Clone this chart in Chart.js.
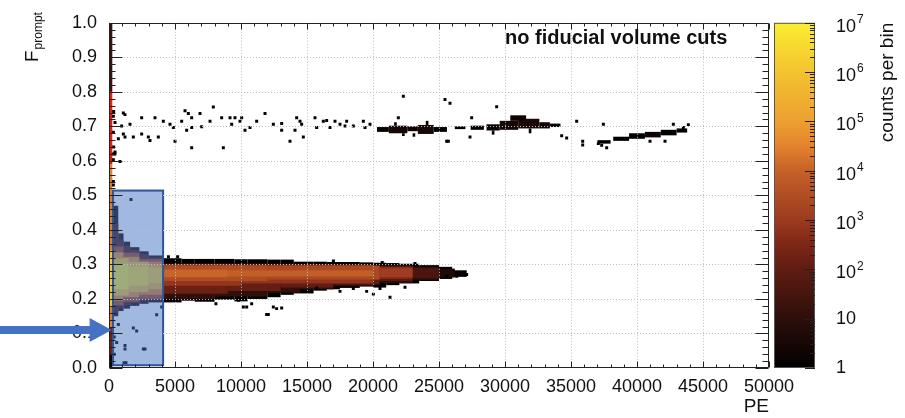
<!DOCTYPE html>
<html><head><meta charset="utf-8">
<script src="https://cdn.jsdelivr.net/npm/chart.js@4.4.1/dist/chart.umd.min.js"></script>
<style>html,body{margin:0;padding:0;background:#fff;}canvas{display:block;}</style>
</head><body>
<canvas id="c" width="905" height="418"></canvas>
<script>
const FONT = '"Liberation Sans", Arial, Helvetica, sans-serif';

// ---- axis ticks ----
const xTickValues = [0,5000,10000,15000,20000,25000,30000,35000,40000,45000,50000];
const xTickLabels = ['0','5000','10000','15000','20000','25000','30000','35000','40000','45000','50000'];
const yTickValues = [0,0.1,0.2,0.3,0.4,0.5,0.6,0.7,0.8,0.9,1.0];
const yTickLabels = ['0.0','0.1','0.2','0.3','0.4','0.5','0.6','0.7','0.8','0.9','1.0'];
const cbTickValues = [1,10,100,1e3,1e4,1e5,1e6,1e7];
const cbTickLabels = [['1',''],['10',''],['10','2'],['10','3'],['10','4'],['10','5'],['10','6'],['10','7']];

// ---- histogram cells: [PE from, PE to, Fprompt from, Fprompt to, counts per bin] (drawn in order) ----
const firstColumn = [
  [0,250,0.000,0.040,2],
  [0,250,0.040,0.120,200],
  [0,250,0.120,0.180,3e4],
  [0,250,0.180,0.340,1.5e6],
  [0,250,0.340,0.590,3e4],
  [0,250,0.800,1.000,15]
];
const redColumn = [[0,250,0.590,0.800]];

const lowPECore = [
  [250,700,0.150,0.470,3],[700,1100,0.165,0.390,4],[1100,1600,0.172,0.366,4],
  [1600,2300,0.180,0.350,4],[2300,3000,0.186,0.338,4],[3000,4100,0.190,0.326,4],
  [250,700,0.160,0.420,40],[700,1100,0.175,0.372,60],[1100,1600,0.182,0.354,60],
  [1600,2300,0.188,0.342,60],[2300,3000,0.193,0.330,60],[3000,4100,0.197,0.320,60],
  [250,1100,0.182,0.352,2000],[1100,2300,0.192,0.334,2000],[2300,4100,0.200,0.316,2000],
  [250,1100,0.195,0.335,6e4],[1100,2300,0.205,0.322,5e4],[2300,4100,0.212,0.308,3e4],
  [250,1500,0.210,0.318,1e6],[1500,3000,0.220,0.308,6e5],[3000,4100,0.228,0.300,3e5],
  [250,1500,0.228,0.300,6e6],[1500,3000,0.238,0.294,3e6],[3000,4100,0.246,0.290,1.5e6]
];

const mainBand = [
  [4100,5500,0.190,0.318,1],[5500,6500,0.195,0.316,1],[6500,8000,0.192,0.316,1],
  [8000,9500,0.198,0.316,1],[9500,10500,0.193,0.315,1],[10500,12000,0.200,0.315,1],
  [12000,13000,0.205,0.314,1],[13000,14000,0.212,0.314,1],[14000,15500,0.216,0.308,1],
  [15500,16500,0.224,0.308,1],[16500,17500,0.228,0.307,1],[17500,19000,0.232,0.307,1],
  [19000,20000,0.236,0.306,1],[20000,21000,0.233,0.305,1],[21000,22000,0.240,0.304,1],
  [22000,23500,0.245,0.302,1],[23500,25000,0.252,0.298,1],[25000,26000,0.258,0.293,1],
  [26000,27100,0.264,0.283,1],
  [4100,8000,0.200,0.303,12],[8000,12000,0.207,0.303,12],[12000,14500,0.218,0.302,12],
  [14500,17000,0.228,0.301,12],[17000,20000,0.237,0.300,12],[20000,23000,0.246,0.298,10],
  [23000,25000,0.255,0.294,8],[25000,26200,0.262,0.288,5],
  [4100,9000,0.215,0.301,150],[9000,13000,0.223,0.300,120],[13000,17000,0.233,0.300,110],
  [17000,20500,0.242,0.298,100],[20500,23000,0.252,0.295,70],[23000,25000,0.260,0.290,40],
  [4100,10000,0.238,0.300,800],[10000,20000,0.245,0.299,700],[20000,23000,0.258,0.293,400],
  [4100,12000,0.252,0.297,2800],[12000,20500,0.256,0.296,2200],[20500,23000,0.263,0.289,1200],
  [4100,9000,0.263,0.285,11000],[9000,20000,0.265,0.283,8000]
];

const denseClusters = [
  [20300,21200,0.684,0.698,1],[21200,22600,0.680,0.702,3],[22600,23400,0.686,0.700,2],
  [23400,24600,0.678,0.704,4],[24600,25600,0.684,0.698,1],
  [21600,21800,0.702,0.712,1],[23000,23200,0.670,0.680,1],[24000,24200,0.704,0.716,1],[22200,22400,0.672,0.680,1],
  [26200,27000,0.692,0.700,1],[27400,28400,0.690,0.702,1],[28600,29600,0.688,0.706,2],
  [29600,31000,0.690,0.716,3],[31000,32600,0.694,0.722,4],[32600,33400,0.694,0.712,2],
  [33400,34200,0.698,0.708,1],[30400,31600,0.716,0.732,2],[29000,29200,0.676,0.688,1],[31800,32000,0.680,0.694,1],
  [37000,38000,0.650,0.660,1],[38200,39400,0.658,0.670,1],[39400,40600,0.664,0.680,1],
  [40600,41800,0.668,0.684,2],[41800,43000,0.674,0.690,1],[43000,43800,0.682,0.694,1]
];

// ---- isolated single-count bins: [PE, Fprompt] ----
const sparseDots = [
  [350,0.743],[330,0.729],[1086,0.739],[1212,0.734],[455,0.711],[1591,0.706],[960,0.701],[330,0.683],
  [1086,0.678],[1212,0.669],[707,0.664],[350,0.640],[455,0.626],[330,0.603],[833,0.598],[2475,0.725],
  [3485,0.725],[4116,0.715],[4621,0.706],[4874,0.697],[5505,0.715],[5758,0.745],[6010,0.737],[6894,0.737],
  [6263,0.725],[5884,0.689],[6263,0.697],[7020,0.699],[7904,0.756],[7652,0.715],[8535,0.725],[9167,0.725],
  [9545,0.725],[9293,0.706],[9924,0.715],[10051,0.725],[10303,0.689],[10682,0.697],[11187,0.715],[11818,0.737],
  [12450,0.706],[13081,0.708],[13081,0.689],[14217,0.725],[14470,0.715],[14596,0.706],[14091,0.689],[14722,0.669],
  [13712,0.657],[1843,0.669],[2475,0.678],[2980,0.669],[3106,0.659],[3737,0.669],[5000,0.657],[6263,0.638],
  [8662,0.638],[15606,0.725],[15733,0.697],[16237,0.715],[16490,0.717],[16743,0.697],[17121,0.715],[17500,0.706],
  [17879,0.701],[18005,0.715],[18510,0.701],[19268,0.715],[19394,0.697],[19773,0.706],[21919,0.725],[22298,0.787],
  [25455,0.778],[25834,0.767],[27475,0.725],[29369,0.757],[25707,0.657],[27349,0.669],[25581,0.657],[34293,0.673],
  [34672,0.666],[35430,0.715],[35885,0.657],[35885,0.646],[37450,0.706],[37703,0.638],[37071,0.650],[37324,0.645],
  [40986,0.657],[42122,0.657],[42753,0.706],[43511,0.697],[43890,0.705],
  [330,0.620],[450,0.620],[330,0.540],[330,0.530],
  [1667,0.488],[1843,0.116],[2096,0.107],[1212,0.065],[2727,0.055],[1136,0.015],[1288,0.015],[707,0.126],
  [3611,0.154],[1212,0.055],[2600,0.055],[580,0.074],[400,0.090],[400,0.040],[3990,0.177],
  [9798,0.196],[10177,0.177],[10808,0.186],[11945,0.155],[12450,0.177],[13081,0.174],[10430,0.177],[12070,0.155],
  [12700,0.172],[8100,0.186],[15733,0.232],[17500,0.222],[18510,0.230],[19521,0.222],[20025,0.214],[20530,0.230],
  [21288,0.205],[22425,0.234],[25581,0.266],[26339,0.266],[27096,0.271],
  [4500,0.322],[5200,0.322],[20700,0.306],[23180,0.303],[17000,0.310]
];

// ---- annotations ----
const highlightBox = [300,4100,0.008,0.514];   // PE from/to, Fprompt from/to
const arrowTip = [200,0.11];                    // PE, Fprompt
const noteText = 'no fiducial volume cuts';

// colour palette (position on log10 scale 0..7 normalised)
const STOPS = [
  [0,[0,0,0]],[1/7,[45,14,10]],[2/7,[95,28,18]],[2.5/7,[125,38,22]],[3/7,[155,58,30]],
  [4/7,[198,98,40]],[4.5/7,[228,130,45]],[5/7,[236,160,48]],[6/7,[243,195,47]],[1,[250,238,48]]
];
function countColor(n){
  const t = Math.max(0, Math.min(1, Math.log10(n)/7));
  for (let i=1;i<STOPS.length;i++){
    if (t <= STOPS[i][0]){
      const [t0,c0] = STOPS[i-1], [t1,c1] = STOPS[i];
      const f = (t-t0)/(t1-t0);
      return 'rgb(' + c0.map((v,k)=>Math.round(v+(c1[k]-v)*f)).join(',') + ')';
    }
  }
  return 'rgb(250,238,48)';
}

function drawCells(ctx, xs, ys, list, color){
  for (const c of list){
    const x0 = xs.getPixelForValue(c[0]), x1 = xs.getPixelForValue(c[1]);
    const y0 = ys.getPixelForValue(c[3]), y1 = ys.getPixelForValue(c[2]);
    ctx.fillStyle = color || countColor(c[4]);
    ctx.fillRect(x0, y0, x1-x0, y1-y0);
  }
}

const histPlugin = {
  id: 'hist',
  beforeDatasetsDraw(chart){
    const {ctx, chartArea:a, scales:{x, y}} = chart;
    ctx.save();
    ctx.beginPath(); ctx.rect(a.left, a.top, a.right-a.left, a.bottom-a.top); ctx.clip();
    drawCells(ctx, x, y, firstColumn);
    drawCells(ctx, x, y, redColumn, '#ee1a14');
    drawCells(ctx, x, y, lowPECore);
    drawCells(ctx, x, y, mainBand);
    drawCells(ctx, x, y, denseClusters);
    ctx.restore();
  },
  afterDatasetsDraw(chart){
    const {ctx, chartArea:a, scales:{x, y, cb}} = chart;
    ctx.save();
    // highlight box
    const bx0 = x.getPixelForValue(highlightBox[0]), bx1 = x.getPixelForValue(highlightBox[1]);
    const by0 = y.getPixelForValue(highlightBox[3]), by1 = y.getPixelForValue(highlightBox[2]);
    ctx.fillStyle = 'rgba(68,114,196,0.5)';
    ctx.fillRect(bx0, by0, bx1-bx0, by1-by0);
    ctx.strokeStyle = '#2F5597'; ctx.lineWidth = 2;
    ctx.strokeRect(bx0, by0, bx1-bx0, by1-by0);

    // grid
    ctx.strokeStyle = '#bdbdbd'; ctx.lineWidth = 1; ctx.setLineDash([1,2]);
    ctx.beginPath();
    xTickValues.slice(1,-1).forEach(v => { const px = Math.round(x.getPixelForValue(v))+0.5; ctx.moveTo(px, a.top); ctx.lineTo(px, a.bottom); });
    yTickValues.slice(1,-1).forEach(v => { const py = Math.round(y.getPixelForValue(v))+0.5; ctx.moveTo(a.left, py); ctx.lineTo(a.right, py); });
    ctx.stroke();
    ctx.setLineDash([]);

    // frame + ticks
    ctx.strokeStyle = '#222'; ctx.lineWidth = 1;
    const L = Math.round(a.left)+0.5, R = Math.round(a.right)-0.5, T = Math.round(a.top)+0.5, B = Math.round(a.bottom)-0.5;
    ctx.beginPath();
    ctx.moveTo(L,T); ctx.lineTo(R,T); ctx.lineTo(R,B); ctx.lineTo(L,B); ctx.closePath();
    for (let v = 0; v <= 50000; v += 1000){
      const px = Math.round(x.getPixelForValue(v))+0.5, len = (v % 5000 === 0) ? 6 : 3;
      ctx.moveTo(px, B); ctx.lineTo(px, B-len);
      ctx.moveTo(px, T); ctx.lineTo(px, T+len);
    }
    for (let k = 0; k <= 50; k++){
      const py = Math.round(y.getPixelForValue(k/50))+0.5, len = (k % 5 === 0) ? 13 : 6;
      ctx.moveTo(L, py); ctx.lineTo(L+len, py);
      ctx.moveTo(R, py); ctx.lineTo(R-len, py);
    }
    ctx.stroke();

    // colour bar
    const cTop = cb.getPixelForValue(1e7), cBot = cb.getPixelForValue(1);
    const cL = a.right + 5, cR = a.right + 46;
    const g = ctx.createLinearGradient(0, cBot, 0, cTop);
    STOPS.forEach(([t,c]) => g.addColorStop(t, 'rgb(' + c.join(',') + ')'));
    ctx.fillStyle = g; ctx.fillRect(cL, cTop, cR-cL, cBot-cTop);
    ctx.strokeStyle = '#555'; ctx.strokeRect(cL+0.5, cTop+0.5, cR-cL-1, cBot-cTop-1);
    ctx.strokeStyle = '#222';
    ctx.beginPath();
    for (let d = 0; d < 8; d++){
      const base = Math.pow(10, d);
      const py = Math.round(cb.getPixelForValue(base))+0.5;
      ctx.moveTo(cR, py); ctx.lineTo(cR-10, py);
      if (d < 7) for (let m = 2; m <= 9; m++){
        const pm = Math.round(cb.getPixelForValue(base*m))+0.5;
        ctx.moveTo(cR, pm); ctx.lineTo(cR-5, pm);
      }
    }
    ctx.stroke();
    ctx.fillStyle = '#111'; ctx.textAlign = 'left'; ctx.textBaseline = 'middle';
    cbTickValues.forEach((v,i) => {
      const py = cb.getPixelForValue(v);
      const [b, e] = cbTickLabels[i];
      ctx.font = '18px ' + FONT;
      if (!e){ ctx.fillText(b, cR+21, py); return; }
      ctx.fillText(b, cR+21, py+4);
      const w = ctx.measureText(b).width;
      ctx.font = '12px ' + FONT;
      ctx.fillText(e, cR+22+w, py-3);
    });

    // colour bar title
    ctx.save();
    ctx.translate(893, cTop); ctx.rotate(-Math.PI/2);
    ctx.textAlign = 'right'; ctx.textBaseline = 'alphabetic';
    ctx.font = '19px ' + FONT;
    ctx.fillText('counts per bin', 0, 0);
    ctx.restore();

    // y axis title F_prompt
    ctx.save();
    ctx.translate(38, 62); ctx.rotate(-Math.PI/2);
    ctx.textAlign = 'left'; ctx.textBaseline = 'alphabetic';
    ctx.font = '19px ' + FONT;
    ctx.fillText('F', 0, 0);
    const fw = ctx.measureText('F').width;
    ctx.font = '12px ' + FONT;
    ctx.fillText('prompt', fw+1, 4);
    ctx.restore();

    // note
    ctx.font = 'bold 20px ' + FONT; ctx.textAlign = 'left'; ctx.textBaseline = 'alphabetic';
    ctx.fillText(noteText, 505, 44);

    // arrow
    const tx = x.getPixelForValue(arrowTip[0]), ty = y.getPixelForValue(arrowTip[1]);
    ctx.fillStyle = '#4472C4';
    ctx.beginPath();
    ctx.moveTo(0, ty-4); ctx.lineTo(tx-22, ty-4); ctx.lineTo(tx-22, ty-12); ctx.lineTo(tx, ty);
    ctx.lineTo(tx-22, ty+12); ctx.lineTo(tx-22, ty+4); ctx.lineTo(0, ty+4); ctx.closePath();
    ctx.fill();
    ctx.restore();
  }
};

new Chart(document.getElementById('c'), {
  type: 'scatter',
  data: { datasets: [{
    label: 'single-count bins',
    data: sparseDots.map(p => ({x: p[0], y: p[1]})),
    pointStyle: 'rect', pointRadius: 2.1, pointHoverRadius: 2.1,
    backgroundColor: '#000', borderWidth: 0
  }]},
  options: {
    responsive: false, animation: false, devicePixelRatio: 1,
    layout: { padding: { top: 12, right: 136, bottom: 0, left: 0 } },
    plugins: { legend: { display: false }, tooltip: { enabled: false } },
    scales: {
      x: {
        type: 'linear', position: 'bottom', min: 0, max: 50000,
        afterBuildTicks: s => { s.ticks = xTickValues.map(v => ({value: v})); },
        ticks: { autoSkip: false, maxRotation: 0, padding: 8, color: '#111', font: {family: FONT, size: 18},
                 callback: (v, i) => xTickLabels[i] },
        grid: { display: false, drawTicks: false }, border: { display: false },
        title: { display: true, text: 'PE', align: 'end', color: '#111', font: {family: FONT, size: 19}, padding: {top: 0, bottom: 0} },
        afterFit: s => { s.height = 50; }
      },
      y: {
        type: 'linear', position: 'left', min: 0, max: 1,
        afterBuildTicks: s => { s.ticks = yTickValues.map(v => ({value: v})); },
        ticks: { autoSkip: false, padding: 12, color: '#111', font: {family: FONT, size: 18},
                 callback: (v, i) => yTickLabels[i] },
        grid: { display: false, drawTicks: false }, border: { display: false },
        afterFit: s => { s.width = 109; }
      },
      cb: { type: 'logarithmic', position: 'right', min: 1, max: 1e7, display: false }
    }
  },
  plugins: [histPlugin]
});
</script>
</body></html>
